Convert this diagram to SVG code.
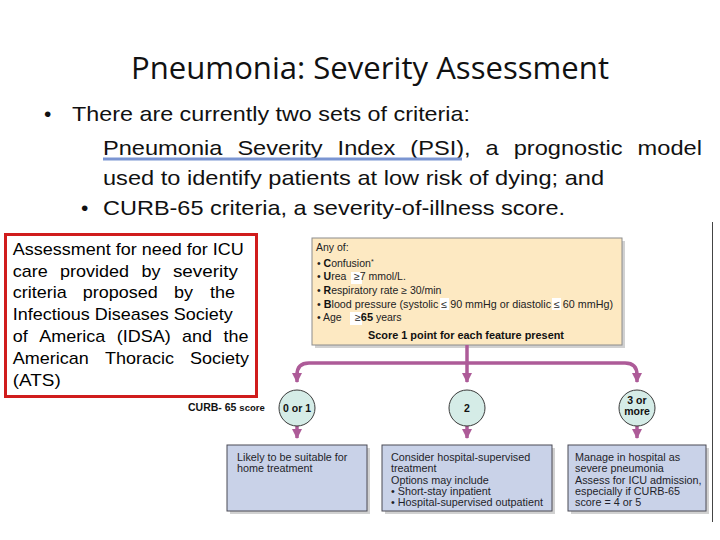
<svg xmlns="http://www.w3.org/2000/svg" width="720" height="540" viewBox="0 0 720 540">
<style>
.title{font-family:"Open Sans","Noto Sans","Liberation Sans",sans-serif;font-size:31px;fill:#111}
.b{font-family:"Liberation Sans",Arial,sans-serif;font-size:21px;fill:#111}
.r{font-family:"Liberation Sans",Arial,sans-serif;font-size:16.4px;fill:#000}
.y{font-family:"Liberation Sans",Arial,sans-serif;font-size:10.5px;fill:#222}
.yb{font-weight:bold;fill:#111}
.c{font-family:"Liberation Sans",Arial,sans-serif;font-size:10.5px;font-weight:bold;fill:#111;text-anchor:middle}
.t{font-family:"Liberation Sans",Arial,sans-serif;font-size:10.8px;fill:#1f1f2a}
.shadow{fill:#9a9a9a;opacity:0.45}
.bbox{fill:#c9d2e8;stroke:#4a4a55;stroke-width:1}
.circ{fill:#d5ece7;stroke:#3a3a3a;stroke-width:1}
.conn{fill:none;stroke:#ad5b98;stroke-width:3.5}
.wp{fill:#fff}
</style>
<defs>
<marker id="ah" markerUnits="userSpaceOnUse" markerWidth="10" markerHeight="10" refX="9" refY="5" orient="auto" viewBox="0 0 10 10">
<path d="M0,0 L10,5 L0,10 Z" fill="#ad5b98"/>
</marker>
</defs>
<rect width="720" height="540" fill="#fff"/>

<g id="title">
<text class="title" x="131" y="79" textLength="478" lengthAdjust="spacingAndGlyphs">Pneumonia: Severity Assessment</text>
</g>

<g id="bullets">
<text class="b" x="44" y="121">•</text>
<text class="b" x="72" y="121" textLength="398" lengthAdjust="spacingAndGlyphs">There are currently two sets of criteria:</text>
<text class="b" x="103" y="155" textLength="119.4" lengthAdjust="spacingAndGlyphs">Pneumonia</text>
<text class="b" x="237.4" y="155" textLength="85.2" lengthAdjust="spacingAndGlyphs">Severity</text>
<text class="b" x="337.6" y="155" textLength="57.7" lengthAdjust="spacingAndGlyphs">Index</text>
<text class="b" x="410.3" y="155" textLength="60.3" lengthAdjust="spacingAndGlyphs">(PSI),</text>
<text class="b" x="485.6" y="155" textLength="13.1" lengthAdjust="spacingAndGlyphs">a</text>
<text class="b" x="513.7" y="155" textLength="108.9" lengthAdjust="spacingAndGlyphs">prognostic</text>
<text class="b" x="637.6" y="155" textLength="64.3" lengthAdjust="spacingAndGlyphs">model</text>
<line x1="103" y1="159" x2="462" y2="159" stroke="#7b95d2" stroke-width="3"/>
<text class="b" x="103" y="185" textLength="501" lengthAdjust="spacingAndGlyphs">used to identify patients at low risk of dying; and</text>
<text class="b" x="81" y="215">•</text>
<text class="b" x="103" y="215" textLength="462" lengthAdjust="spacingAndGlyphs">CURB-65 criteria, a severity-of-illness score.</text>
</g>

<g id="note">
<rect x="5.5" y="234.5" width="251" height="162" fill="#fff" stroke="#d01c1c" stroke-width="3"/>
<text class="r" x="12.7" y="255" textLength="231" lengthAdjust="spacingAndGlyphs">Assessment for need for ICU</text>
<text class="r" x="12.7" y="277" textLength="35" lengthAdjust="spacingAndGlyphs">care</text>
<text class="r" x="60.1" y="277" textLength="69" lengthAdjust="spacingAndGlyphs">provided</text>
<text class="r" x="141.5" y="277" textLength="19" lengthAdjust="spacingAndGlyphs">by</text>
<text class="r" x="172.9" y="277" textLength="65" lengthAdjust="spacingAndGlyphs">severity</text>
<text class="r" x="12.7" y="298" textLength="54" lengthAdjust="spacingAndGlyphs">criteria</text>
<text class="r" x="82.8" y="298" textLength="75" lengthAdjust="spacingAndGlyphs">proposed</text>
<text class="r" x="173.9" y="298" textLength="19" lengthAdjust="spacingAndGlyphs">by</text>
<text class="r" x="210" y="298" textLength="25" lengthAdjust="spacingAndGlyphs">the</text>
<text class="r" x="12.7" y="320" textLength="220" lengthAdjust="spacingAndGlyphs">Infectious Diseases Society</text>
<text class="r" x="12.7" y="342" textLength="15" lengthAdjust="spacingAndGlyphs">of</text>
<text class="r" x="39.2" y="342" textLength="66" lengthAdjust="spacingAndGlyphs">America</text>
<text class="r" x="116.7" y="342" textLength="54" lengthAdjust="spacingAndGlyphs">(IDSA)</text>
<text class="r" x="182.1" y="342" textLength="30" lengthAdjust="spacingAndGlyphs">and</text>
<text class="r" x="223.6" y="342" textLength="25" lengthAdjust="spacingAndGlyphs">the</text>
<text class="r" x="12.7" y="364" textLength="76" lengthAdjust="spacingAndGlyphs">American</text>
<text class="r" x="104.9" y="364" textLength="69" lengthAdjust="spacingAndGlyphs">Thoracic</text>
<text class="r" x="190" y="364" textLength="59" lengthAdjust="spacingAndGlyphs">Society</text>
<text class="r" x="12.7" y="386" textLength="48" lengthAdjust="spacingAndGlyphs">(ATS)</text>
</g>

<line id="edge" x1="712.5" y1="222" x2="712.5" y2="522" stroke="#444" stroke-width="1"/>

<g id="criteria">
<rect class="shadow" x="315" y="241" width="310" height="107"/>
<rect x="312" y="238" width="310" height="107" fill="#fde9c2" stroke="#8c8c8c" stroke-width="1"/>
<rect class="wp" x="351" y="272" width="11" height="12"/>
<rect class="wp" x="350" y="312" width="12" height="13"/>
<rect class="wp" x="440" y="298" width="9" height="12"/>
<rect class="wp" x="552" y="298" width="9" height="12"/>
<text class="y" x="316" y="251">Any of:</text>
<text class="y" x="317" y="267">• <tspan class="yb">C</tspan>onfusion<tspan dy="-3" font-size="7">*</tspan></text>
<text class="y" x="317" y="280">• <tspan class="yb">U</tspan>rea</text>
<text class="y" x="354" y="280">≥7 mmol/L.</text>
<text class="y" x="317" y="294">• <tspan class="yb">R</tspan>espiratory rate ≥ 30/min</text>
<text class="y" x="317" y="308" textLength="296" lengthAdjust="spacingAndGlyphs">• <tspan class="yb">B</tspan>lood pressure (systolic ≤ 90 mmHg or diastolic ≤ 60 mmHg)</text>
<text class="y" x="317" y="321">• Age</text>
<text class="y" x="355" y="321">≥<tspan class="yb" font-size="11">65</tspan> years</text>
<text class="y yb" x="368" y="339" textLength="196" lengthAdjust="spacingAndGlyphs">Score 1 point for each feature present</text>
</g>

<g id="connectors">
<path class="conn" d="M467,345 L467,382" marker-end="url(#ah)"/>
<path class="conn" d="M467,363 L309,363 Q297,363 297,375 L297,382" marker-end="url(#ah)"/>
<path class="conn" d="M467,363 L625,363 Q637,363 637,375 L637,382" marker-end="url(#ah)"/>
<path class="conn" d="M297,426 L297,438" marker-end="url(#ah)"/>
<path class="conn" d="M467,426 L467,438" marker-end="url(#ah)"/>
<path class="conn" d="M637,426 L637,438" marker-end="url(#ah)"/>
</g>

<g id="score-label">
<text class="y yb" x="188" y="411" font-size="11">CURB- 65 <tspan font-size="9.5">score</tspan></text>
</g>

<g id="c01">
<circle class="circ" cx="297" cy="408" r="18"/>
<text class="c" x="297" y="412">0 or 1</text>
</g>
<g id="c2">
<circle class="circ" cx="467" cy="408" r="18"/>
<text class="c" x="467" y="412">2</text>
</g>
<g id="c3">
<circle class="circ" cx="637" cy="408" r="18"/>
<text class="c" x="637" y="404">3 or</text>
<text class="c" x="637" y="415">more</text>
</g>

<g id="box-home">
<rect class="shadow" x="230" y="448" width="140" height="66"/>
<rect class="bbox" x="227" y="445" width="140" height="66"/>
<text class="t" x="237" y="461">Likely to be suitable for</text>
<text class="t" x="237" y="472">home treatment</text>
</g>
<g id="box-hospital">
<rect class="shadow" x="385" y="448" width="170" height="66"/>
<rect class="bbox" x="382" y="445" width="170" height="66"/>
<text class="t" x="391" y="461">Consider hospital-supervised</text>
<text class="t" x="391" y="472">treatment</text>
<text class="t" x="391" y="484">Options may include</text>
<text class="t" x="391" y="495">• Short-stay inpatient</text>
<text class="t" x="391" y="506">• Hospital-supervised outpatient</text>
</g>
<g id="box-severe">
<rect class="shadow" x="571" y="448" width="138" height="66"/>
<rect class="bbox" x="568" y="445" width="138" height="66"/>
<text class="t" x="575" y="461">Manage in hospital as</text>
<text class="t" x="575" y="472">severe pneumonia</text>
<text class="t" x="575" y="484">Assess for ICU admission,</text>
<text class="t" x="575" y="495">especially if CURB-65</text>
<text class="t" x="575" y="506">score = 4 or 5</text>
</g>
</svg>
